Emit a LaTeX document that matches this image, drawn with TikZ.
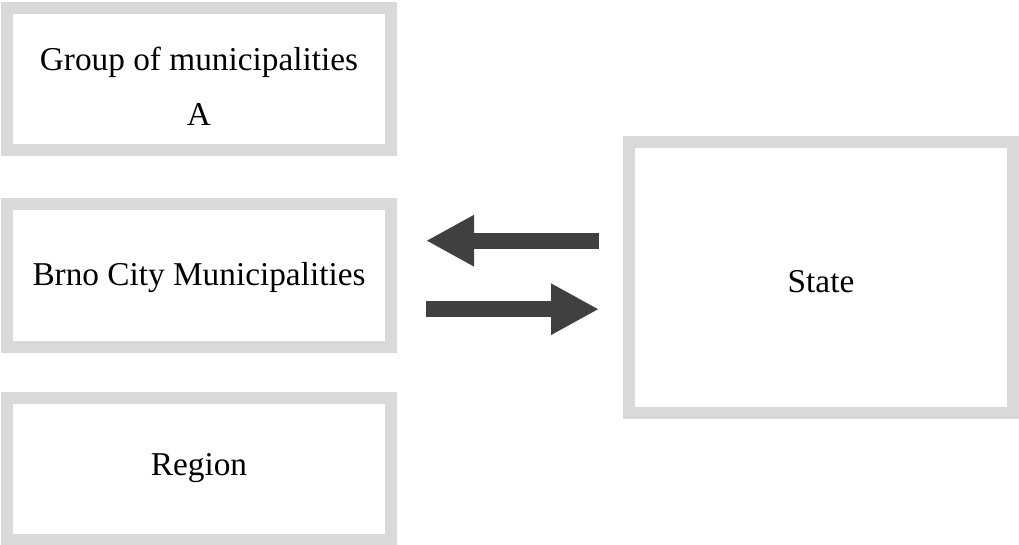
\documentclass[tikz,border=0pt]{standalone}
\usepackage{fontspec}
\setmainfont{Liberation Serif}
\usetikzlibrary{arrows.meta}
\definecolor{boxgray}{RGB}{217,217,217}
\definecolor{arrowgray}{RGB}{64,64,64}
\tikzset{
  framebox/.style={draw=boxgray, line width=12pt, rectangle, minimum width=384pt,
    minimum height=142pt, inner sep=0pt, fill=white},
  lbl/.style={font=\fontsize{33.3}{55}\selectfont, text=black, inner sep=0pt, anchor=base},
  bigarrow/.style={draw=arrowgray, line width=16pt, -{Triangle[length=48pt,width=48pt]}}
}
\begin{document}
\begin{tikzpicture}[x=1pt,y=-1pt]
\useasboundingbox (0,0) rectangle (1019,545);
\node[framebox] (b1) at (199,79) {};
\node[framebox] (b2) at (199,275.5) {};
\node[framebox] (b3) at (199,468.5) {};
\node[framebox, minimum height=271pt] (st) at (821,277.5) {};
\node[lbl] (t1a) at (199,71) {Group of municipalities};
\node[lbl] (t1b) at (199,126) {A};
\node[lbl] (t2) at (199,285) {Brno City Municipalities};
\node[lbl] (t3) at (199,475) {Region};
\node[lbl] (t4) at (821,292) {State};
\coordinate (la) at ([xshift=-24pt]st.west |- 0,240.7);
\coordinate (lb) at ([xshift=29pt]b2.east |- 0,240.7);
\coordinate (ra) at ([xshift=29pt]b2.east |- 0,309.2);
\coordinate (rb) at ([xshift=-24pt]st.west |- 0,309.2);
\draw[bigarrow] (la) -- (lb);
\draw[bigarrow] (ra) -- (rb);
\end{tikzpicture}
\end{document}
